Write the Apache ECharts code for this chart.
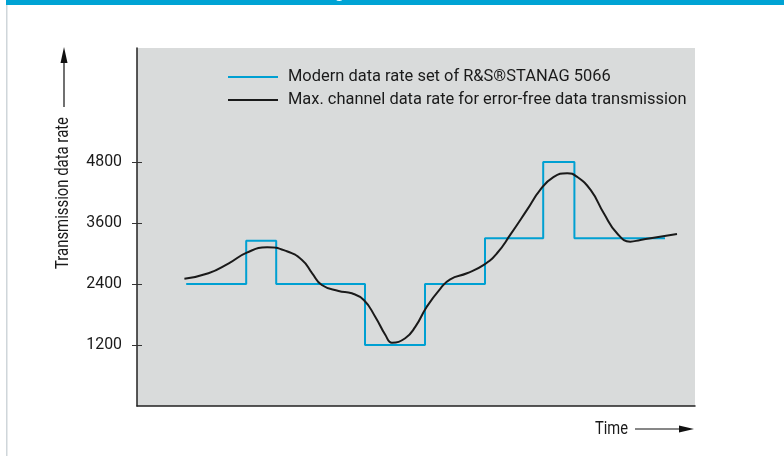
<!DOCTYPE html>
<html>
<head>
<meta charset="utf-8">
<script src="https://cdn.jsdelivr.net/npm/echarts@6/dist/echarts.min.js"></script>
<style>html,body{margin:0;padding:0;background:#fff;}#c{width:784px;height:456px;}</style>
</head>
<body>
<div id="c"></div>
<script>
// Time in arbitrary units (0..93), data rate in bit/s
const stepTimes = [8.2, 18.2, 23.2, 38, 48, 58, 67.7, 72.9, 88];
const stepRates = [2400, 3250, 2400, 1200, 2400, 3300, 4800, 3300, 3300];
const curveTimes = [7.9, 11.9, 15.3, 18.3, 21.7, 24.7, 27.5, 29.2, 30.8, 33.6, 35.8, 37.8, 39.7, 41.4, 42.5, 44.7, 46.4, 48.3, 50.6, 52.2, 55.0, 57.8, 60.0, 62.2, 65.0, 67.2, 69.4, 71.7, 73.3, 75.6, 77.8, 80.0, 82.2, 83.9, 85.6, 90.0];
const curveRates = [2504, 2610, 2807, 3016, 3122, 3055, 2872, 2610, 2380, 2262, 2217, 2085, 1757, 1397, 1245, 1332, 1560, 1953, 2315, 2492, 2610, 2774, 3004, 3364, 3856, 4249, 4499, 4578, 4511, 4249, 3791, 3397, 3232, 3266, 3299, 3384];
const yTicks = [1200, 2400, 3600, 4800];
const seriesNames = ['Modern data rate set of R&S\u00AESTANAG 5066', 'Max. channel data rate for error-free data transmission'];

const FONT = 'Roboto, "Liberation Sans", Arial, sans-serif';
const mctx = document.createElement('canvas').getContext('2d');
function textWidth(t, size) { mctx.font = size + 'px ' + FONT; return mctx.measureText(t).width; }
// condensed look: scale text horizontally to the reference widths
const yNameScale = 152 / textWidth('Transmission data rate', 19);
const timeScale = 33 / textWidth('Time', 19);
const legendSize = Math.min(19, 18 * 399 / textWidth(seriesNames[1], 18));
const tickSize = Math.min(19, 18 * 35.7 / textWidth('4800', 18));

const chart = echarts.init(document.getElementById('c'), null, {renderer: 'canvas'});
chart.setOption({
  animation: false,
  backgroundColor: '#ffffff',
  grid: {left: 137, top: 48, right: 89, bottom: 50, show: true, backgroundColor: '#d9dbdb', borderWidth: 0},
  legend: {
    orient: 'vertical', left: 223, top: 63, itemWidth: 50, itemHeight: 2, itemGap: 5,
    icon: 'rect',
    textStyle: {fontFamily: FONT, fontSize: legendSize, color: '#1a1a1a', padding: [0, 0, 0, 5], lineHeight: 18},
    data: seriesNames
  },
  xAxis: {
    type: 'value', min: 0, max: 93,
    axisLine: {show: true, lineStyle: {color: '#222', width: 1.5}},
    axisTick: {show: false}, axisLabel: {show: false}, splitLine: {show: false}
  },
  yAxis: [{
    type: 'value', min: 0, max: 7040,
    axisLine: {show: true, lineStyle: {color: '#222', width: 1.5}},
    axisTick: {show: false}, axisLabel: {show: false}, splitLine: {show: false}
  }, {
    type: 'value', min: 0, max: 7040, position: 'left', offset: -5,
    axisLine: {show: false},
    axisTick: {show: true, inside: false, length: 10, customValues: yTicks, lineStyle: {color: '#333', width: 1}},
    axisLabel: {show: true, customValues: yTicks, margin: 20, formatter: v => String(v), fontFamily: FONT, fontSize: tickSize, color: '#1a1a1a'},
    splitLine: {show: false}
  }],
  series: [{
    name: seriesNames[0], type: 'line', step: 'end', showSymbol: false,
    lineStyle: {color: '#00a0d2', width: 2}, itemStyle: {color: '#00a0d2'},
    data: stepTimes.map((t, i) => [t, stepRates[i]]), z: 2
  }, {
    name: seriesNames[1], type: 'line', smooth: 0.5, showSymbol: false,
    lineStyle: {color: '#1a1a1a', width: 2}, itemStyle: {color: '#1a1a1a'},
    data: curveTimes.map((t, i) => [t, curveRates[i]]), z: 3
  }],
  graphic: [
    {type: 'rect', shape: {x: 6, y: 0, width: 778, height: 5}, style: {fill: '#00a3d4'}},
    {type: 'rect', shape: {x: 6, y: 5, width: 1.5, height: 451}, style: {fill: '#cfd6da'}},
    {type: 'text', x: 335, y: -14, style: {text: 'g', fill: '#ffffff', font: 'bold 16px ' + FONT}},
    {type: 'text', x: 63, y: 193, rotation: Math.PI / 2, scaleX: yNameScale, style: {text: 'Transmission data rate', fill: '#1a1a1a', font: '19px ' + FONT, align: 'center', verticalAlign: 'middle'}},
    {type: 'line', shape: {x1: 64, y1: 107, x2: 64, y2: 60}, style: {stroke: '#111', lineWidth: 1.2}},
    {type: 'polygon', shape: {points: [[64, 47], [60.5, 63], [67.5, 63]]}, style: {fill: '#111'}},
    {type: 'text', x: 628, y: 429, scaleX: timeScale, style: {text: 'Time', fill: '#1a1a1a', font: '19px ' + FONT, align: 'right', verticalAlign: 'middle'}},
    {type: 'line', shape: {x1: 635, y1: 429, x2: 682, y2: 429}, style: {stroke: '#111', lineWidth: 1.2}},
    {type: 'polygon', shape: {points: [[694, 429], [679, 425.5], [679, 432.5]]}, style: {fill: '#111'}}
  ]
});
</script>
</body>
</html>
